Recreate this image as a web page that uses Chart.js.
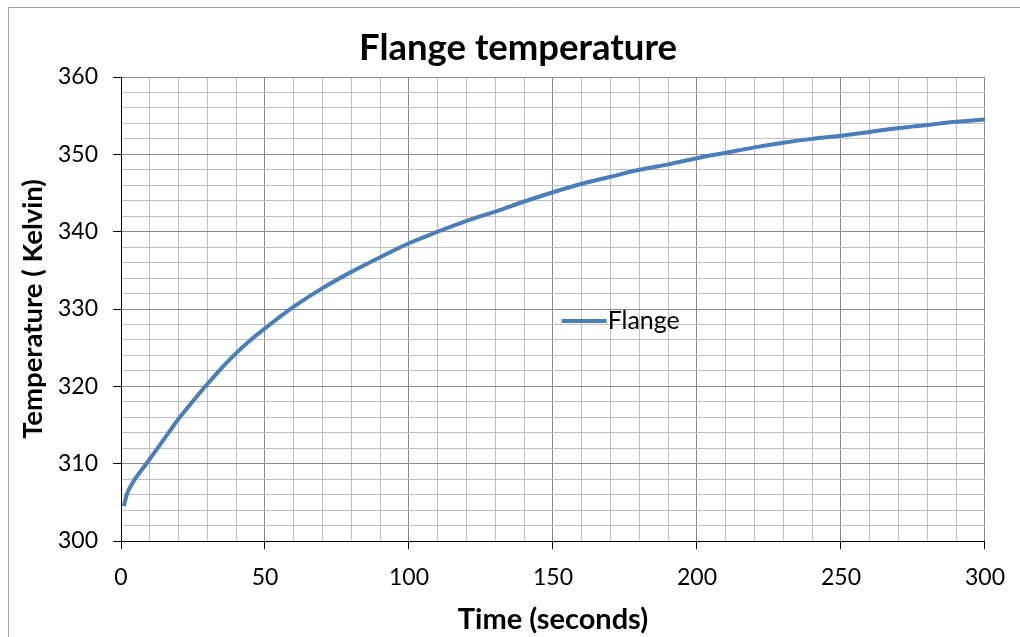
<!DOCTYPE html>
<html lang="en">
<head>
  <meta charset="UTF-8" />
  <title>Flange temperature</title>
  <script src="https://cdn.jsdelivr.net/npm/chart.js"></script>
  <style>
    body { margin: 0; background: #fff; }
  </style>
</head>
<body>
  <canvas id="lineChart" width="1020" height="637"></canvas>

  <script>
    // temps (secondes / Kelvin)
    const times = [1, 2, 4, 6, 8, 10, 15, 20, 25, 30, 35, 40, 45, 50, 60, 70, 80, 90, 100,
      110, 120, 130, 140, 150, 160, 170, 180, 190, 200, 210, 220, 230, 240, 250, 260, 270,
      280, 290, 300];
    const flange = [304.5, 306.0, 307.5, 308.6, 309.6, 310.6, 313.2, 315.8, 318.1, 320.3,
      322.4, 324.3, 326.0, 327.5, 330.3, 332.7, 334.8, 336.7, 338.5, 340.0, 341.4, 342.6,
      343.9, 345.1, 346.2, 347.1, 348.0, 348.7, 349.5, 350.2, 350.9, 351.5, 352.0, 352.4,
      352.9, 353.4, 353.8, 354.2, 354.5];

    const xLabels = [0, 50, 100, 150, 200, 250, 300];
    const yLabels = [300, 310, 320, 330, 340, 350, 360];
    const xMinorStep = 10;
    const yMinorStep = 2;

    const FONT = 'Lato, "Open Sans", sans-serif';
    const BLUE = '#4a7ebb';

    // cadre gris autour du graphique + titre recentré
    const framePlugin = {
      id: 'frame',
      afterLayout(chart) {
        if (chart.titleBlock) {
          chart.titleBlock.left = 16;
          chart.titleBlock.right = chart.width;
        }
      },
      beforeDraw(chart) {
        const ctx = chart.ctx;
        ctx.save();
        ctx.strokeStyle = '#a0a0a0';
        ctx.lineWidth = 1;
        ctx.beginPath();
        ctx.moveTo(8.5, chart.height);
        ctx.lineTo(8.5, 7.5);
        ctx.lineTo(chart.width, 7.5);
        ctx.stroke();
        ctx.restore();
      }
    };

    // légende placée dans la zone du graphique
    const innerLegend = {
      id: 'innerLegend',
      afterDatasetsDraw(chart) {
        const ctx = chart.ctx;
        const area = chart.chartArea;
        const ds = chart.data.datasets[0];
        const x = area.left + (area.right - area.left) * 0.51;
        const y = area.top + (area.bottom - area.top) * 0.526;
        ctx.save();
        ctx.strokeStyle = ds.borderColor;
        ctx.lineWidth = 4;
        ctx.beginPath();
        ctx.moveTo(x, y);
        ctx.lineTo(x + 45, y);
        ctx.stroke();
        ctx.fillStyle = '#000';
        ctx.font = '25px ' + FONT;
        ctx.textBaseline = 'middle';
        ctx.fillText(ds.label, x + 46, y);
        ctx.restore();
      }
    };

    new Chart(document.getElementById('lineChart'), {
      type: 'line',
      data: {
        datasets: [{
          label: 'Flange',
          data: times.map((t, i) => ({ x: t, y: flange[i] })),
          borderColor: BLUE,
          borderWidth: 4,
          pointRadius: 0,
          cubicInterpolationMode: 'monotone',
          fill: false
        }]
      },
      options: {
        responsive: false,
        animation: false,
        layout: { padding: { left: 0, right: 33, top: 0, bottom: 0 } },
        plugins: {
          legend: { display: false },
          tooltip: { enabled: false },
          title: {
            display: true,
            text: 'Flange temperature',
            color: '#000',
            font: { family: FONT, size: 36.5, weight: 'bold', lineHeight: 1.2 },
            padding: { top: 26.1, bottom: 7.1 }
          }
        },
        scales: {
          x: {
            type: 'linear',
            min: 0,
            max: 300,
            afterFit(scale) { scale.height = 96; },
            border: { color: '#000', width: 1 },
            grid: {
              color: c => xLabels.includes(c.tick.value) ? '#8c8c8c' : '#c0c0c0',
              tickColor: c => xLabels.includes(c.tick.value) ? '#000' : 'rgba(0,0,0,0)',
              tickLength: 8
            },
            ticks: {
              stepSize: xMinorStep,
              autoSkip: false,
              maxRotation: 0,
              padding: 15,
              color: '#000',
              font: { family: FONT, size: 23 },
              callback: v => xLabels.includes(v) ? String(v) : ''
            },
            title: {
              display: true,
              text: 'Time (seconds)',
              color: '#000',
              font: { family: FONT, size: 29, weight: 'bold', lineHeight: 1.2 },
              padding: { top: 0, bottom: 0 }
            }
          },
          y: {
            min: 300,
            max: 360,
            afterFit(scale) { scale.width = 121; },
            border: { color: '#000', width: 1 },
            grid: {
              color: c => yLabels.includes(c.tick.value) ? '#8c8c8c' : '#c0c0c0',
              tickColor: c => yLabels.includes(c.tick.value) ? '#000' : 'rgba(0,0,0,0)',
              tickLength: 8
            },
            ticks: {
              stepSize: yMinorStep,
              autoSkip: false,
              padding: 15,
              color: '#000',
              font: { family: FONT, size: 23 },
              callback: v => yLabels.includes(v) ? String(v) : ''
            },
            title: {
              display: true,
              text: 'Temperature ( Kelvin)',
              color: '#000',
              font: { family: FONT, size: 27.5, weight: 'bold', lineHeight: 1.2 },
              padding: { top: 16.5, bottom: 0 }
            }
          }
        }
      },
      plugins: [framePlugin, innerLegend]
    });
  </script>
</body>
</html>
